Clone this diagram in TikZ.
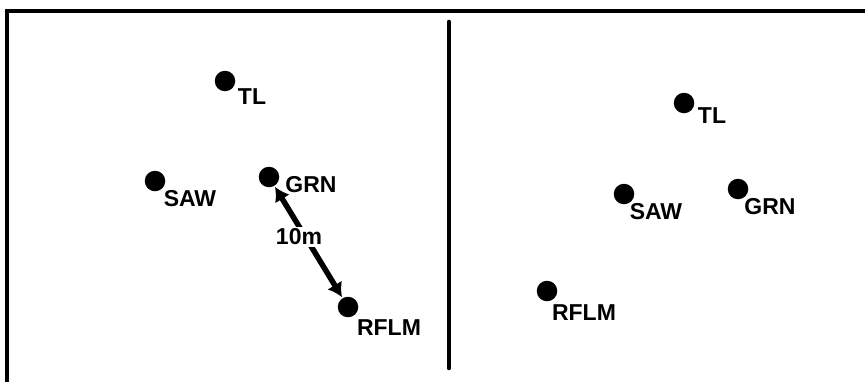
\documentclass[tikz,border=0pt]{standalone}
\usepackage{fontspec}
\setmainfont{Liberation Sans}
\usetikzlibrary{arrows.meta}
\begin{document}
\begin{tikzpicture}[x=1pt,y=-1pt,
  dot/.style={circle,fill=black,inner sep=0pt,minimum size=20.5pt},
  lbl/.style={inner sep=0pt,font=\fontsize{23}{27}\selectfont\bfseries},
  frameline/.style={line width=4pt},
  divider/.style={line width=4.6pt,line cap=round},
  measure/.style={line width=5.5pt,{Latex[length=14pt,width=17pt]}-{Latex[length=14pt,width=17pt]},shorten <=1pt,shorten >=1pt}]
\useasboundingbox (0,0) rectangle (865,381);
% frame
\draw[frameline] (7,383) -- (7,11) -- (867,11);
\coordinate (dtop) at (449,22);
\coordinate (dbot) at (449,368);
\draw[divider] (dtop) -- (dbot);
% left panel
\node[dot] (ltl) at (225,81) {};
\node[dot] (lsaw) at (155,181) {};
\node[dot] (lgrn) at (269,177) {};
\node[dot] (lrflm) at (348,307) {};
\node[lbl] (ltlt) at (252,97) {TL};
\node[lbl] (lsawt) at (190,199) {SAW};
\node[lbl] (lgrnt) at (311,185) {GRN};
\node[lbl] (lrflmt) at (389,328) {RFLM};
\draw[measure] (lgrn) -- (lrflm);
\node[lbl,fill=white,inner sep=2pt] (dist) at (299,237) {10m};
% right panel
\node[dot] (rtl) at (684,103) {};
\node[dot] (rsaw) at (624,194) {};
\node[dot] (rgrn) at (738,189) {};
\node[dot] (rrflm) at (547,291) {};
\node[lbl] (rtlt) at (712,116) {TL};
\node[lbl] (rsawt) at (656,212) {SAW};
\node[lbl] (rgrnt) at (770,207) {GRN};
\node[lbl] (rrflmt) at (584,313) {RFLM};
\end{tikzpicture}
\end{document}
